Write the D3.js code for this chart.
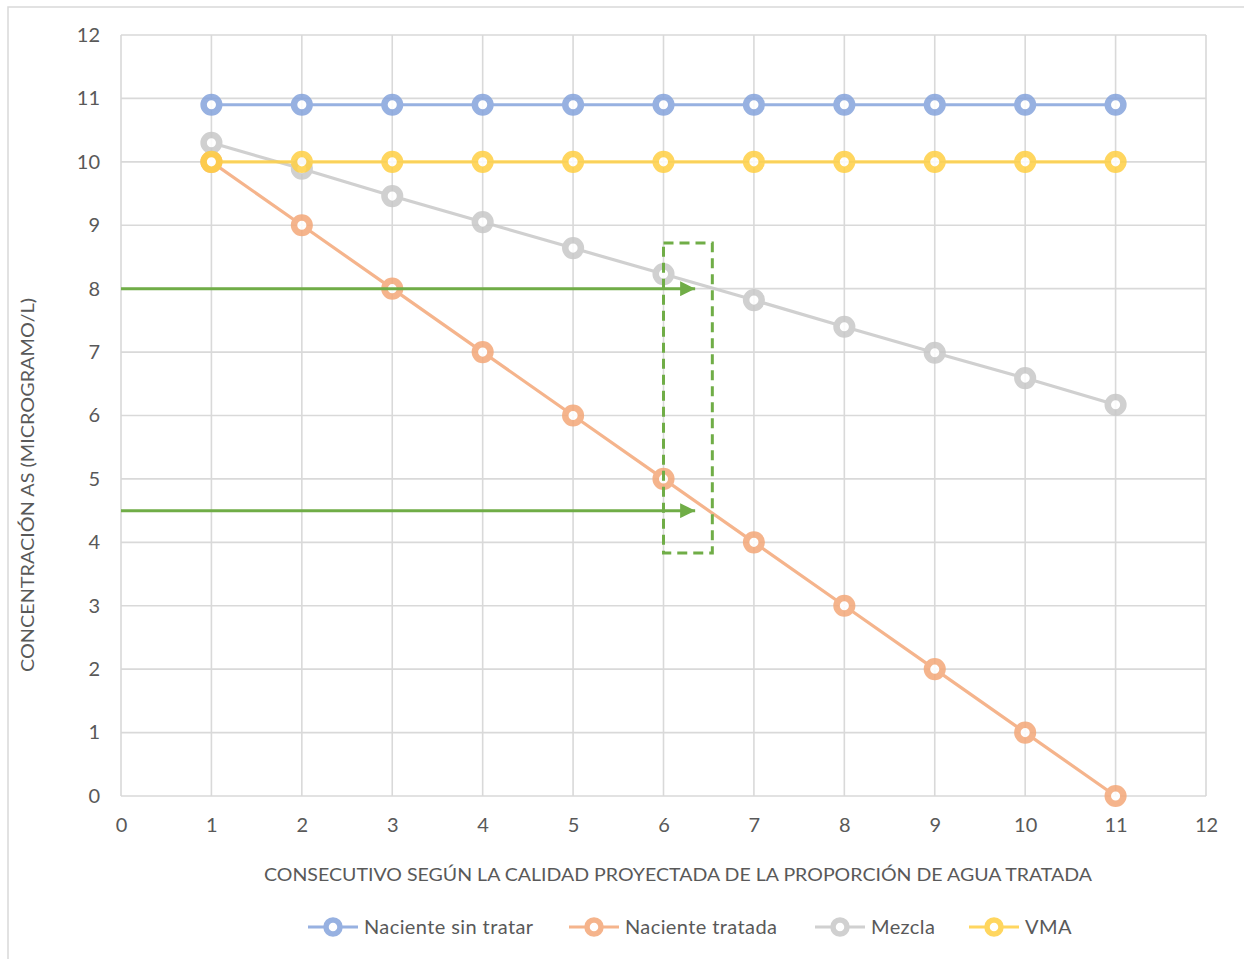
<!DOCTYPE html>
<html>
<head>
<meta charset="utf-8">
<script src="https://cdn.jsdelivr.net/npm/d3@7"></script>
<style>
  html, body { margin: 0; padding: 0; background: #fff; }
  svg { display: block; font-family: Lato, "Open Sans", sans-serif; }
</style>
</head>
<body>
<svg id="chart" width="1244" height="959"></svg>
<script>
// Series data
const categories = [1, 2, 3, 4, 5, 6, 7, 8, 9, 10, 11];
const nacienteSinTratar = [10.9, 10.9, 10.9, 10.9, 10.9, 10.9, 10.9, 10.9, 10.9, 10.9, 10.9];
const nacienteTratada = [10, 9, 8, 7, 6, 5, 4, 3, 2, 1, 0];
const mezcla = [10.3, 9.89, 9.46, 9.05, 8.64, 8.23, 7.82, 7.40, 6.99, 6.59, 6.17];
const vma = [10, 10, 10, 10, 10, 10, 10, 10, 10, 10, 10];

const seriesNames = ["Naciente sin tratar", "Naciente tratada", "Mezcla", "VMA"];
const seriesColors = ["#86a4dc", "#f4a879", "#c8c8c8", "#ffd044"];

const xTicks = [0, 1, 2, 3, 4, 5, 6, 7, 8, 9, 10, 11, 12];
const yTicks = [0, 1, 2, 3, 4, 5, 6, 7, 8, 9, 10, 11, 12];

// Annotation values: arrows (x from, x to, y) and highlight box
const arrowLevels = [8, 4.5];
const arrowRange = [0, 6.35];
const boxX = [6.0, 6.54];
const boxY = [3.83, 8.72];

const xTitle = "CONSECUTIVO SEGÚN LA CALIDAD PROYECTADA DE LA PROPORCIÓN DE AGUA TRATADA";
const yTitle = "CONCENTRACIÓN AS (MICROGRAMO/L)";

const svg = d3.select("#chart");
const plot = { left: 121, right: 1206, top: 35, bottom: 796 };

const x = d3.scaleLinear().domain([0, 12]).range([plot.left, plot.right]);
const y = d3.scaleLinear().domain([0, 12]).range([plot.bottom, plot.top]);

const gridColor = "#d9d9d9";
const textColor = "#595959";
const green = "#70ad47";

// Outer chart frame
svg.append("rect")
  .attr("x", 8).attr("y", 7).attr("width", 1260).attr("height", 980)
  .attr("fill", "#fff").attr("stroke", gridColor).attr("stroke-width", 1.5);

// Gridlines
svg.append("g").selectAll("line").data(yTicks).join("line")
  .attr("x1", plot.left).attr("x2", plot.right)
  .attr("y1", d => y(d)).attr("y2", d => y(d))
  .attr("stroke", gridColor).attr("stroke-width", 1.6);
svg.append("g").selectAll("line").data(xTicks).join("line")
  .attr("y1", plot.top).attr("y2", plot.bottom)
  .attr("x1", d => x(d)).attr("x2", d => x(d))
  .attr("stroke", gridColor).attr("stroke-width", 1.6);

// Axes (labels only; lines come from the grid)
const xAxis = d3.axisBottom(x).tickValues(xTicks).tickSize(0).tickPadding(22);
const gx = svg.append("g").attr("transform", `translate(0,${plot.bottom})`).call(xAxis);
gx.select(".domain").remove();
gx.selectAll("text").attr("fill", textColor).style("font-size", "20px").style("font-family", "Lato, sans-serif");

const yAxis = d3.axisLeft(y).tickValues(yTicks).tickSize(0).tickPadding(21);
const gy = svg.append("g").attr("transform", `translate(${plot.left},0)`).call(yAxis);
gy.select(".domain").remove();
gy.selectAll("text").attr("fill", textColor).style("font-size", "20px").style("font-family", "Lato, sans-serif");

// Axis titles
svg.append("text")
  .attr("x", 678).attr("y", 881)
  .attr("text-anchor", "middle")
  .attr("fill", textColor).style("font-size", "18px")
  .attr("textLength", 828).attr("lengthAdjust", "spacingAndGlyphs")
  .text(xTitle);
svg.append("text")
  .attr("transform", "translate(34,485) rotate(-90)")
  .attr("text-anchor", "middle")
  .attr("fill", textColor).style("font-size", "18px")
  .attr("textLength", 374).attr("lengthAdjust", "spacingAndGlyphs")
  .text(yTitle);

// Series
const allSeries = [nacienteSinTratar, nacienteTratada, mezcla, vma];
const line = d3.line().x((d, i) => x(categories[i])).y(d => y(d));

allSeries.forEach((vals, si) => {
  const g = svg.append("g").attr("opacity", 0.85);
  g.append("path").datum(vals)
    .attr("d", line)
    .attr("fill", "none")
    .attr("stroke", seriesColors[si])
    .attr("stroke-width", 3.2);
  g.selectAll("circle").data(vals).join("circle")
    .attr("cx", (d, i) => x(categories[i]))
    .attr("cy", d => y(d))
    .attr("r", 7.8)
    .attr("fill", "#fff")
    .attr("stroke", seriesColors[si])
    .attr("stroke-width", 6.5);
});

// Annotation: arrows
const defs = svg.append("defs");
defs.append("marker")
  .attr("id", "arrowhead")
  .attr("viewBox", "0 0 10 10")
  .attr("refX", 10).attr("refY", 5)
  .attr("markerWidth", 5.5).attr("markerHeight", 5)
  .attr("markerUnits", "strokeWidth")
  .attr("orient", "auto")
  .append("path").attr("d", "M0,0 L10,5 L0,10 Z").attr("fill", green);

svg.append("g").selectAll("line").data(arrowLevels).join("line")
  .attr("x1", x(arrowRange[0])).attr("x2", x(arrowRange[1]))
  .attr("y1", d => y(d)).attr("y2", d => y(d))
  .attr("stroke", green).attr("stroke-width", 3)
  .attr("marker-end", "url(#arrowhead)");

// Annotation: dashed highlight box
svg.append("rect")
  .attr("x", x(boxX[0])).attr("y", y(boxY[1]))
  .attr("width", x(boxX[1]) - x(boxX[0]))
  .attr("height", y(boxY[0]) - y(boxY[1]))
  .attr("fill", "none")
  .attr("stroke", green).attr("stroke-width", 3)
  .attr("stroke-dasharray", "10,6");

// Legend
const legendItems = [
  { name: seriesNames[0], color: seriesColors[0], x: 308 },
  { name: seriesNames[1], color: seriesColors[1], x: 569 },
  { name: seriesNames[2], color: seriesColors[2], x: 815 },
  { name: seriesNames[3], color: seriesColors[3], x: 969 }
];
const legend = svg.append("g").attr("transform", "translate(0,927)");
legendItems.forEach(item => {
  const g = legend.append("g").attr("transform", `translate(${item.x},0)`).attr("opacity", 0.85);
  g.append("line").attr("x1", 0).attr("x2", 50).attr("y1", 0).attr("y2", 0)
    .attr("stroke", item.color).attr("stroke-width", 3.2);
  g.append("circle").attr("cx", 25).attr("cy", 0).attr("r", 7)
    .attr("fill", "#fff").attr("stroke", item.color).attr("stroke-width", 5.5);
  legend.append("text")
    .attr("x", item.x + 56).attr("y", 7)
    .attr("fill", textColor).style("font-size", "20px")
    .attr("letter-spacing", "0.4px")
    .text(item.name);
});
</script>
</body>
</html>
